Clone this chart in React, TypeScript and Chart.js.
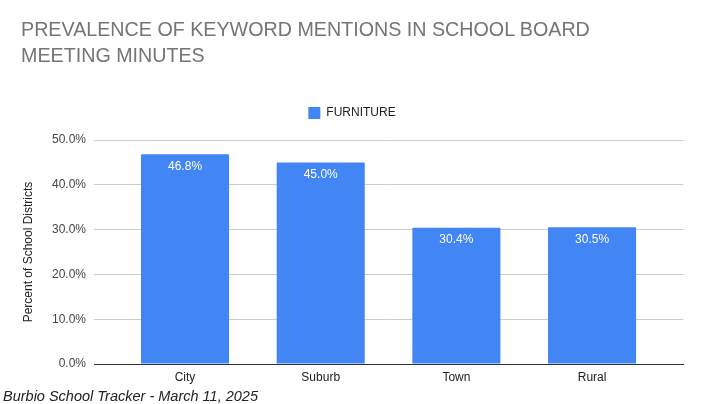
import React, { useEffect, useRef } from "react";
import { Chart, registerables } from "chart.js";

Chart.register(...registerables);

const categories = ["City", "Suburb", "Town", "Rural"];
const furniture = [46.8, 45.0, 30.4, 30.5];
const seriesName = "FURNITURE";
const titleLines = ["PREVALENCE OF KEYWORD MENTIONS IN SCHOOL BOARD", "MEETING MINUTES"];
const yAxisTitle = "Percent of School Districts";
const footerText = "Burbio School Tracker - March 11, 2025";

const FONT = "'Liberation Sans', Arial, sans-serif";

const barLabels = {
  id: "barLabels",
  afterDatasetsDraw(chart: any) {
    const ctx = chart.ctx;
    const meta = chart.getDatasetMeta(0);
    ctx.save();
    ctx.font = `12px ${FONT}`;
    ctx.fillStyle = "#ffffff";
    ctx.textAlign = "center";
    ctx.textBaseline = "middle";
    meta.data.forEach((bar: any, i: number) => {
      ctx.fillText(furniture[i].toFixed(1) + "%", bar.x, bar.y + 12);
    });
    ctx.restore();
  },
};

const legendSpacing = {
  id: "legendSpacing",
  beforeInit(chart: any) {
    const legend = chart.legend;
    if (!legend) return;
    const origFit = legend.fit;
    legend.fit = function () {
      origFit.bind(this)();
      this.height += 11;
    };
  },
  afterLayout(chart: any) {
    const legend = chart.legend;
    if (!legend) return;
    legend.right = chart.width;
    legend.width = legend.right - legend.left;
    if (legend.adjustHitBoxes) legend.adjustHitBoxes();
  },
};

export default function App() {
  const ref = useRef<HTMLCanvasElement | null>(null);

  useEffect(() => {
    if (!ref.current) return;
    const chart = new Chart(ref.current, {
      type: "bar",
      data: {
        datasets: [
          {
            label: seriesName,
            data: furniture.map((v, i) => ({ x: i, y: v })),
            backgroundColor: "#4285f4",
            borderWidth: 0,
            borderRadius: 1,
            categoryPercentage: 1,
            barPercentage: 0.649,
          },
        ],
      },
      plugins: [barLabels, legendSpacing],
      options: {
        responsive: false,
        animation: false,
        layout: { padding: { top: 97, right: 20.5, bottom: 0, left: 0 } },
        plugins: {
          title: { display: false },
          tooltip: { enabled: false },
          legend: {
            display: true,
            position: "top",
            labels: {
              boxWidth: 12,
              boxHeight: 12,
              color: "#222222",
              font: { family: FONT, size: 12 },
            },
          },
        },
        scales: {
          x: {
            type: "linear",
            offset: false,
            min: -0.671,
            max: 3.674,
            afterBuildTicks: (s: any) => {
              s.ticks = categories.map((_, i) => ({ value: i }));
            },
            afterFit: (s: any) => {
              s.height = 40;
            },
            ticks: {
              autoSkip: false,
              maxRotation: 0,
              padding: 6,
              color: "#222222",
              font: { family: FONT, size: 12 },
              callback: (v: any) => categories[v as number],
            },
            grid: { display: false, drawTicks: false },
            border: { display: true, color: "#333333", width: 1 },
          },
          y: {
            min: 0,
            max: 50,
            afterFit: (s: any) => {
              s.width = 94;
            },
            ticks: {
              stepSize: 10,
              padding: 8,
              color: "#444444",
              font: { family: FONT, size: 12 },
              callback: (v: any) => Number(v).toFixed(1) + "%",
            },
            grid: { color: "#cccccc", drawTicks: false },
            border: { display: false },
            title: {
              display: true,
              text: yAxisTitle,
              color: "#222222",
              font: { family: FONT, size: 12 },
              padding: { top: 21, bottom: 0 },
            },
          },
        },
      },
    });
    return () => chart.destroy();
  }, []);

  return (
    <div style={{ position: "fixed", left: 0, top: 0, width: 704, height: 404, background: "#fff", overflow: "hidden" }}>
      <canvas ref={ref} width={704} height={404} style={{ position: "absolute", left: 0, top: 0 }} />
      <div
        style={{
          position: "absolute",
          left: 21,
          top: 16,
          fontFamily: FONT,
          fontSize: 19.7,
          lineHeight: "26px",
          color: "#757575",
          whiteSpace: "nowrap",
        }}
      >
        {titleLines.map((t, i) => (
          <div key={i}>{t}</div>
        ))}
      </div>
      <div
        style={{
          position: "absolute",
          left: 3,
          top: 388,
          fontFamily: FONT,
          fontSize: 14.5,
          lineHeight: "16px",
          fontStyle: "italic",
          color: "#222222",
          whiteSpace: "nowrap",
        }}
      >
        {footerText}
      </div>
    </div>
  );
}
